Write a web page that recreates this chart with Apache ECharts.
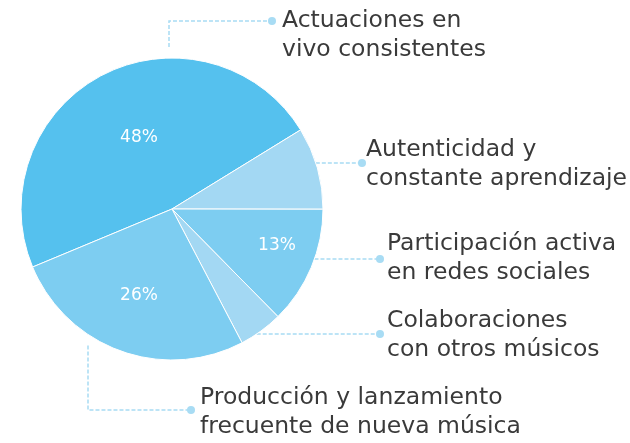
<!DOCTYPE html>
<html>
<head>
<meta charset="utf-8">
<script src="https://cdn.jsdelivr.net/npm/echarts@6/dist/echarts.min.js"></script>
<style>
  html, body { margin: 0; padding: 0; background: #fff; }
  #chart { width: 630px; height: 443px; }
</style>
</head>
<body>
<div id="chart"></div>
<script>
// data
var categories = [
  'Actuaciones en\nvivo consistentes',
  'Autenticidad y\nconstante aprendizaje',
  'Participación activa\nen redes sociales',
  'Colaboraciones\ncon otros músicos',
  'Producción y lanzamiento\nfrecuente de nueva música'
];
var shares = [47.5, 8.8, 12.6, 4.7, 26.4];
var showPct = [true, false, true, false, true];

// style / layout
var colors = ['#55c1ee', '#a3d8f3', '#7dcdf1', '#a3d8f3', '#7dcdf1'];
var lineColor = '#a8dcf4';
var FONT = 'DejaVu Sans';
var CX = 172, CY = 209, R = 151;
var pctPos = [[139, 138], null, [277, 246], null, [139, 296]];
var dotPos = [[272, 21], [362, 163], [380, 259], [380, 334], [191, 410]];
var textPos = [[282, 35], [366, 164], [387, 258], [387, 335], [200, 412]];
var elbowX = [169, null, null, null, 88];
var gap = 11;

function leaderPoints(i) {
  var d = dotPos[i];
  if (elbowX[i] != null) {
    var ex = elbowX[i];
    var h = Math.sqrt(R * R - (ex - CX) * (ex - CX));
    var ey = d[1] < CY ? CY - h - gap : CY + h + gap;
    return [[ex, ey], [ex, d[1]], [d[0], d[1]]];
  }
  var sx = CX + Math.sqrt(R * R - (d[1] - CY) * (d[1] - CY));
  return [[sx, d[1]], [(sx + d[0]) / 2, d[1]], [d[0], d[1]]];
}

function plainData() {
  return categories.map(function (name, i) {
    return { name: name, value: shares[i] };
  });
}

var chart = echarts.init(document.getElementById('chart'));

var base = {
  type: 'pie',
  center: [CX, CY],
  radius: R,
  startAngle: 202.6,
  clockwise: true,
  avoidLabelOverlap: false,
  silent: true,
  animation: false
};

chart.setOption({
  backgroundColor: '#fff',
  series: [
    Object.assign({}, base, {
      color: colors,
      itemStyle: { borderColor: '#fff', borderWidth: 1 },
      label: {
        position: 'inside',
        color: '#fff',
        fontFamily: FONT,
        fontSize: 17,
        formatter: function (p) {
          return showPct[p.dataIndex] ? Math.round(p.percent) + '%' : '';
        }
      },
      labelLine: { show: false },
      labelLayout: function (p) {
        var q = pctPos[p.dataIndex];
        return q ? { x: q[0], y: q[1], align: 'center', verticalAlign: 'middle' } : {};
      },
      data: plainData()
    }),
    // leader lines with end dots
    Object.assign({}, base, {
      itemStyle: { color: 'rgba(0,0,0,0)' },
      label: {
        position: 'outside',
        formatter: '{d|}',
        rich: { d: { width: 8, height: 8, borderRadius: 4, backgroundColor: lineColor } }
      },
      labelLine: { show: true, lineStyle: { color: lineColor, width: 1.5, type: [4, 2] } },
      labelLayout: function (p) {
        var i = p.dataIndex;
        return {
          x: dotPos[i][0], y: dotPos[i][1], align: 'center', verticalAlign: 'middle',
          labelLinePoints: leaderPoints(i)
        };
      },
      data: plainData()
    }),
    // category texts
    Object.assign({}, base, {
      itemStyle: { color: 'rgba(0,0,0,0)' },
      label: {
        position: 'outside',
        formatter: '{b}',
        color: '#3a3a3a',
        fontFamily: FONT,
        fontSize: 23.5,
        lineHeight: 29
      },
      labelLine: { show: false },
      labelLayout: function (p) {
        var t = textPos[p.dataIndex];
        return { x: t[0], y: t[1], align: 'left', verticalAlign: 'middle' };
      },
      data: plainData()
    })
  ]
});
</script>
</body>
</html>
